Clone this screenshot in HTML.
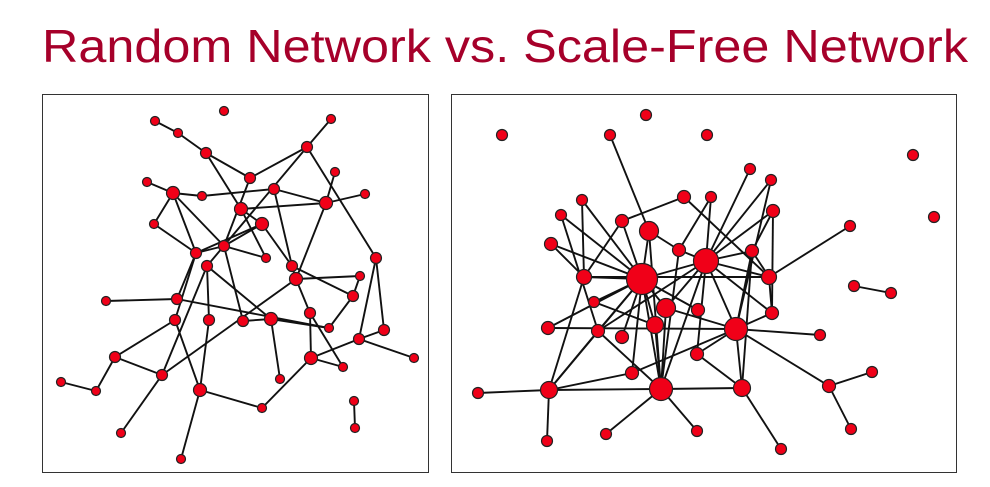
<!DOCTYPE html>
<html><head><meta charset="utf-8"><style>
html,body{margin:0;padding:0;background:#fff;width:990px;height:487px;overflow:hidden}
</style></head><body>
<svg id="s" width="990" height="487" xmlns="http://www.w3.org/2000/svg">
<text x="42" y="62" font-family="Liberation Sans, sans-serif" font-size="46" fill="#a6002a" textLength="926" lengthAdjust="spacingAndGlyphs">Random Network vs. Scale-Free Network</text>
<rect x="42.5" y="94.5" width="386" height="378" fill="none" stroke="#333" stroke-width="1"/>
<rect x="451.5" y="94.5" width="505" height="378" fill="none" stroke="#333" stroke-width="1"/>
<g id="e" stroke="#111" stroke-width="1.9"></g>
<g id="n" fill="#f00018" stroke="#222" stroke-width="1.2"></g>
</svg>
<script>
var L={A:[224,111,4],B:[155,121,4],C:[178,133,4],D:[206,153,5],E:[331,119,4],F:[307,147,5],G:[250,178,5],H:[335,172,4],I:[147,182,4],J:[173,193,6],K:[202,196,4],L:[274,189,5],M:[365,194,4],N:[326,203,6],O:[241,209,6],P:[154,224,4],Q:[262,224,6],R:[224,246,5],S:[196,253,5],T:[266,258,4],U:[207,266,5],V:[292,266,5],W:[376,258,5],X:[296,279,6],Y:[360,276,4],Z:[106,301,4],a:[177,299,5],b:[353,296,5],c:[175,320,5],d:[209,320,5],e:[243,321,5],f:[271,319,6],g:[310,313,5],h:[329,328,4],i:[384,330,5],j:[359,339,5],k:[115,357,5],l:[311,358,6],m:[414,358,4],n:[343,367,4],o:[162,375,5],p:[280,379,4],q:[61,382,4],r:[96,391,4],s:[200,390,6],t:[262,408,4],u:[354,401,4],v:[355,428,4],w:[121,433,4],x:[181,459,4]};
var LE="BC CD DG DO OT EF FG FU FW GR JI JK KL LN NM NH ON JP JS JR PS RQ RS RT QS OQ QV LV VX Vb XY NX Wj Wi bY bh Za ah aS cS ck ko oU oX dU ds Re Uf fe fp fh gX gl gn lj ln lt jm ij st sx sc kr rq ow uv".split(" ");
var R={1:[502,135,5],2:[610,135,5],3:[646,115,5],4:[707,135,5],5:[913,155,5],6:[934,217,5],7:[750,169,5],8:[771,180,5],9:[582,200,5],10:[684,197,6],11:[711,197,5],12:[561,215,5],13:[622,221,6],14:[649,231,9],15:[773,211,6],16:[850,226,5],17:[551,244,6],18:[679,250,6],19:[706,261,12],20:[752,251,6],21:[584,277,7],22:[642,279,15],23:[769,277,7],24:[854,286,5],25:[891,293,5],26:[594,302,5],27:[666,308,9],28:[698,310,6],29:[772,313,6],30:[548,328,6],31:[598,331,6],32:[622,337,6],33:[655,325,8],34:[736,329,11],35:[820,335,5],36:[697,354,6],37:[872,372,5],38:[632,373,6],39:[829,386,6],40:[478,393,5],41:[549,390,8],42:[661,389,11],43:[742,388,8],44:[606,434,5],45:[697,431,5],46:[851,429,5],47:[781,449,5],48:[547,441,5]};
var RE="2-14 10-13 10-23 11-18 22-9 22-12 22-17 22-21 22-13 22-14 22-19 22-26 22-30 22-31 22-33 22-27 22-41 22-42 22-28 22-32 22-38 19-7 19-8 19-15 19-20 19-11 19-18 19-23 19-34 19-29 19-36 19-42 19-27 19-31 15-20 20-23 20-34 20-43 16-23 24-25 34-27 34-35 34-39 34-43 34-36 30-34 34-38 39-37 39-46 43-47 43-42 41-42 41-40 41-48 41-21 41-38 41-31 42-44 42-45 36-43 42-31 42-27 42-14 42-33 29-34 29-23 21-23 26-33 14-18 17-21 13-21 18-42 8-34 15-29 9-21 12-31".split(" ");
var eg=document.getElementById('e'),ng=document.getElementById('n'),h='',k='';
function ln(a,b){h+='<line x1="'+a[0]+'" y1="'+a[1]+'" x2="'+b[0]+'" y2="'+b[1]+'"/>';}
LE.forEach(function(p){ln(L[p[0]],L[p[1]]);});
RE.forEach(function(p){var q=p.split('-');ln(R[q[0]],R[q[1]]);});
for(var x in L){var c=L[x];k+='<circle cx="'+c[0]+'" cy="'+c[1]+'" r="'+(c[2]+0.5)+'"/>';}
for(var x in R){var c=R[x];k+='<circle cx="'+c[0]+'" cy="'+c[1]+'" r="'+(c[2]+0.5)+'"/>';}
eg.innerHTML=h;ng.innerHTML=k;
</script>
</body></html>
